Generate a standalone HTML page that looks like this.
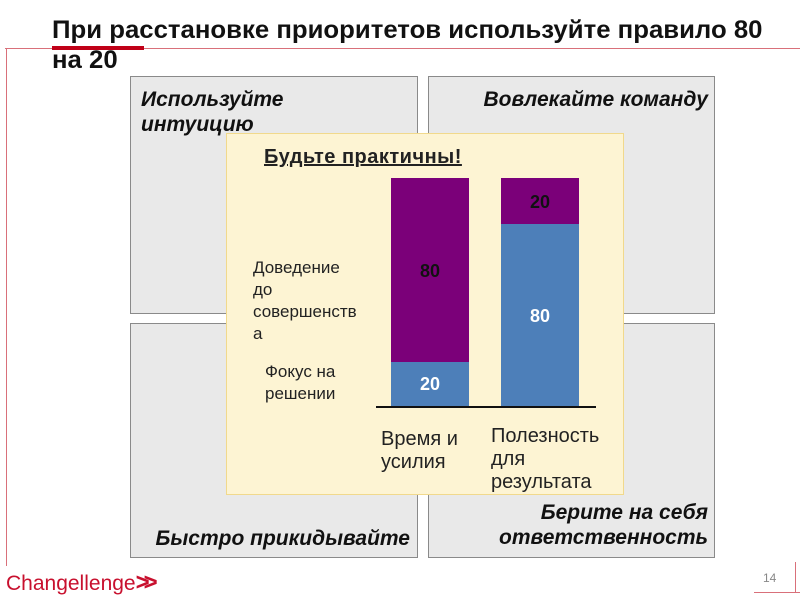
<!DOCTYPE html>
<html><head><meta charset="utf-8"><style>
body{margin:0;width:800px;height:600px;background:#fff;position:relative;overflow:hidden;font-family:"Liberation Sans","Noto Sans CJK SC",sans-serif}
.a{position:absolute}
.q{position:absolute;background:#e9e9e9;border:1px solid #8a8a8a;box-sizing:border-box}
.qt{position:absolute;font-weight:bold;font-style:italic;font-size:21px;line-height:25px;color:#111;white-space:nowrap}
.s{font-size:17px;line-height:22px;color:#222}
</style></head><body>
<div class="a" style="left:5px;top:48px;width:795px;height:1px;background:#d9707a"></div>
<div class="a" style="left:6px;top:48px;width:1px;height:518px;background:#d9707a"></div>
<div class="a" style="left:52px;top:46px;width:92px;height:4px;background:#c00018"></div>
<div class="a" style="left:52px;top:15px;font-size:25px;font-weight:bold;line-height:30px;color:#111;white-space:nowrap;transform:scaleX(1.03);transform-origin:left">При расстановке приоритетов используйте правило 80<br>на 20</div>
<div class="q" style="left:130px;top:76px;width:288px;height:238px"></div>
<div class="q" style="left:428px;top:76px;width:287px;height:238px"></div>
<div class="q" style="left:130px;top:323px;width:288px;height:235px"></div>
<div class="q" style="left:428px;top:323px;width:287px;height:235px"></div>
<div class="qt" style="left:141px;top:87px">Используйте<br>интуицию</div>
<div class="qt" style="left:408px;top:87px;width:300px;text-align:right">Вовлекайте команду</div>
<div class="qt" style="left:110px;top:526px;width:300px;text-align:right">Быстро прикидывайте</div>
<div class="qt" style="left:408px;top:500px;width:300px;text-align:right">Берите на себя<br>ответственность</div>
<div class="a" style="left:226px;top:133px;width:398px;height:362px;background:#fdf4d3;border:1px solid #f1d98c;box-sizing:border-box"></div>
<div class="a" style="left:264px;top:146px;font-size:20px;font-weight:bold;text-decoration:underline;color:#222;white-space:nowrap;letter-spacing:0.5px">Будьте практичны!</div>
<div class="a" style="left:391px;top:178px;width:78px;height:184px;background:#7b0079"></div>
<div class="a" style="left:391px;top:362px;width:78px;height:45px;background:#4d7fb9"></div>
<div class="a" style="left:501px;top:178px;width:78px;height:46px;background:#7b0079"></div>
<div class="a" style="left:501px;top:224px;width:78px;height:183px;background:#4d7fb9"></div>
<div class="a" style="left:376px;top:406px;width:220px;height:2px;background:#111"></div>
<div class="a" style="left:391px;top:261px;width:78px;text-align:center;font-weight:bold;font-size:18px;color:#111">80</div>
<div class="a" style="left:391px;top:374px;width:78px;text-align:center;font-weight:bold;font-size:18px;color:#fff">20</div>
<div class="a" style="left:501px;top:192px;width:78px;text-align:center;font-weight:bold;font-size:18px;color:#111">20</div>
<div class="a" style="left:501px;top:306px;width:78px;text-align:center;font-weight:bold;font-size:18px;color:#fff">80</div>
<div class="a s" style="left:253px;top:257px">Доведение<br>до<br>совершенств<br>а</div>
<div class="a s" style="left:265px;top:361px">Фокус на<br>решении</div>
<div class="a" style="left:381px;top:428px;font-size:20px;line-height:23px;color:#222">Время и<br>усилия</div>
<div class="a" style="left:491px;top:425px;font-size:20px;line-height:23px;color:#222">Полезность<br>для<br>результата</div>
<div class="a" style="left:6px;top:569px;font-size:21px;color:#c8102e;white-space:nowrap">Changellenge<b style="letter-spacing:-6px;font-size:24px">&gt;&gt;</b></div>
<div class="a" style="left:763px;top:571px;font-size:12px;color:#888">14</div>
<div class="a" style="left:754px;top:592px;width:46px;height:1px;background:#d9707a"></div>
<div class="a" style="left:795px;top:562px;width:1px;height:30px;background:#d9707a"></div>
</body></html>
